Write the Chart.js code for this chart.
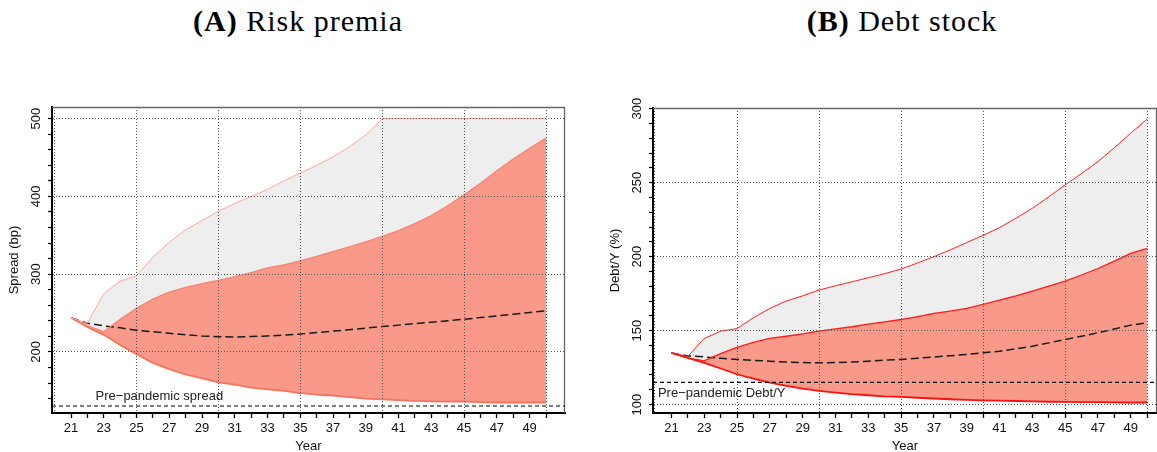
<!DOCTYPE html>
<html>
<head>
<meta charset="utf-8">
<script src="https://cdn.jsdelivr.net/npm/chart.js@4.4.0/dist/chart.umd.min.js"></script>
<style>
  html, body { margin: 0; padding: 0; background: #fff; }
  #wrap { position: relative; width: 1157px; height: 452px; overflow: hidden; }
  canvas { position: absolute; top: 0; }
  .title { position: absolute; top: 4px; font-family: 'Liberation Serif', serif; font-size: 30px;
           letter-spacing: 1px; color: #000; white-space: nowrap; transform: translateX(-50%); }
</style>
</head>
<body>
<div id="wrap">
  <div class="title" style="left:298px"><b>(A)</b> Risk premia</div>
  <div class="title" style="left:902px"><b>(B)</b> Debt stock</div>
  <canvas id="chartA" width="580" height="452" style="left:0"></canvas>
  <canvas id="chartB" width="567" height="452" style="left:590px"></canvas>
</div>
<script>
// years on the x axis (20xx)
const years = [21, 22, 23, 24, 25, 26, 27, 28, 29, 30, 31, 32, 33, 34, 35,
               36, 37, 38, 39, 40, 41, 42, 43, 44, 45, 46, 47, 48, 49, 50];

// (A) risk premia, spread in bp
const upperA  = [244, 237, 275, 291, 298, 322, 341, 357, 369, 381, 391, 400, 409, 420, 430,
                 440, 451, 464, 479, 500, 500, 500, 500, 500, 500, 500, 500, 500, 500, 500];
const midA    = [244, 234, 226, 242, 256, 268, 277, 283, 288, 292, 297, 302, 308, 312, 317,
                 323, 329, 335, 341.5, 348.5, 356, 365, 375.5, 388, 402, 417, 433, 448, 462, 475];
const lowerA  = [244, 232, 222, 209, 197, 186, 178, 171, 166, 161, 158, 154, 152, 150, 147,
                 145, 144, 142, 140, 139, 138, 137, 136.5, 136, 136, 135.5, 135, 135, 135, 135];
const medianA = [244, 237, 233.5, 231, 228, 226, 224, 222, 220.6, 219.7, 219.3, 219.8, 220.6, 221.7, 223,
                 224.9, 226.8, 228.7, 230.6, 232.6, 234.5, 236.4, 238.2, 240.1, 242, 244.2, 246.4, 248.6, 250.8, 253];
const preA = 130.5;

// (B) debt stock, debt/Y in %
const upperB  = [134.9, 132.5, 144.7, 149.6, 151.4, 158.7, 165, 170, 173.5, 177.4, 180.3, 183, 185.7, 188.5, 191.6,
                 195.7, 200, 204.6, 209.5, 214.4, 219.6, 226, 232.7, 240.4, 248.5, 256.2, 264.3, 273.6, 283.5, 293];
const midB    = [134.9, 131.6, 129.5, 134.5, 138.6, 142, 144.7, 146.2, 147.8, 149.6, 151.2, 152.6, 154.4, 155.9, 157.5,
                 159.5, 161.6, 163.2, 165, 167.7, 170.6, 173.5, 176.7, 180, 183.5, 187.6, 192, 197, 202.2, 205.6];
const lowerB  = [134.9, 131.6, 128.2, 124.4, 120.5, 117.6, 114.9, 112.6, 110.8, 109.2, 108.1, 107, 106.3, 105.6, 105.2,
                 104.6, 104.1, 103.6, 103.2, 102.9, 102.6, 102.4, 102.1, 101.9, 101.8, 101.7, 101.6, 101.5, 101.4, 101.4];
const medianB = [134.9, 132.9, 132.2, 131.3, 130.5, 129.9, 129.3, 128.8, 128.4, 128.2, 128.4, 128.8, 129.3, 130, 130.5,
                 131.3, 132.2, 133, 133.9, 135, 136.1, 137.7, 139.5, 141.7, 144, 146.2, 148.5, 151.1, 153.7, 155.3];
const preB = 115;

// axis tick labels
const yLabelsA = [200, 300, 400, 500];
const yLabelsB = [100, 150, 200, 250, 300];

const FONT = "'Liberation Sans', Arial, sans-serif";
const RED_FILL = '#F8998A';
const GREY_FILL = '#EEEEEE';
const GRID = '#555555';

const pts = arr => arr.map((v, i) => ({x: years[i], y: v}));

function rangeTicks(from, to, step) {
  const out = [];
  for (let v = from; v <= to + 1e-9; v += step) out.push({value: v});
  return out;
}

// box, rotated y labels, y title and the pre-pandemic reference line
const decor = {
  id: 'decor',
  afterDraw(chart) {
    const o = chart.options.plugins.decor;
    const {ctx, chartArea: a} = chart;
    const y = chart.scales.y, x = chart.scales.x;
    ctx.save();
    // top / right frame
    ctx.strokeStyle = '#666';
    ctx.lineWidth = 1.3;
    ctx.beginPath();
    ctx.moveTo(a.left, a.top + 0.5);
    ctx.lineTo(a.right - 0.5, a.top + 0.5);
    ctx.lineTo(a.right - 0.5, a.bottom);
    ctx.stroke();
    // pre-pandemic line
    const py = y.getPixelForValue(o.pre);
    ctx.strokeStyle = '#000';
    ctx.lineWidth = 1.2;
    ctx.setLineDash([4, 3]);
    ctx.beginPath();
    ctx.moveTo(a.left, py);
    ctx.lineTo(a.right, py);
    ctx.stroke();
    ctx.setLineDash([]);
    ctx.fillStyle = '#222';
    ctx.font = '13px ' + FONT;
    ctx.textAlign = 'left';
    ctx.textBaseline = 'middle';
    ctx.fillText(o.preText, x.getPixelForValue(o.preTextX), py + o.preTextDy);
    // y tick labels, rotated like R
    ctx.fillStyle = '#111';
    ctx.textAlign = 'center';
    for (const v of o.yLabels) {
      ctx.save();
      ctx.translate(a.left - 16, y.getPixelForValue(v));
      ctx.rotate(-Math.PI / 2);
      ctx.fillText(String(v), 0, 0);
      ctx.restore();
    }
    // y title
    ctx.save();
    ctx.translate(a.left - 38, (a.top + a.bottom) / 2);
    ctx.rotate(-Math.PI / 2);
    ctx.fillText(o.yTitle, 0, 0);
    ctx.restore();
    ctx.restore();
  }
};

function makeChart(id, cfg) {
  const lineDs = (data, color, width, fill, bg) => ({
    data: pts(data), borderColor: color, borderWidth: width, pointRadius: 0,
    tension: 0, fill: fill, backgroundColor: bg || 'transparent'
  });
  return new Chart(document.getElementById(id), {
    type: 'line',
    data: {
      datasets: [
        lineDs(cfg.upper, cfg.upperColor, 1, '+1', GREY_FILL),
        lineDs(cfg.mid, cfg.midColor, 1.3, '+1', RED_FILL),
        lineDs(cfg.lower, cfg.lowerColor, 1.8, false),
        Object.assign(lineDs(cfg.median, '#1a1a1a', 1.5, false), {borderDash: [8, 4]})
      ]
    },
    options: {
      responsive: false,
      animation: false,
      devicePixelRatio: 1,
      layout: {padding: {top: cfg.top, right: cfg.right, left: 0, bottom: 0}},
      plugins: {
        legend: {display: false},
        tooltip: {enabled: false},
        filler: {drawTime: 'beforeDatasetsDraw'},
        decor: {pre: cfg.pre, preText: cfg.preText, preTextX: cfg.preTextX, preTextDy: cfg.preTextDy,
                yLabels: cfg.yLabels, yTitle: cfg.yTitle}
      },
      scales: {
        x: {
          type: 'linear',
          min: cfg.xmin, max: cfg.xmax,
          afterBuildTicks: s => { s.ticks = rangeTicks(20, 50, 1); },
          afterFit: s => { s.height = 39; },
          ticks: {
            autoSkip: false, minRotation: 0, maxRotation: 0, padding: 3,
            color: '#111', font: {family: FONT, size: 13},
            callback: v => (v % 2 === 1 ? String(v) : '')
          },
          grid: {
            z: 1, lineWidth: 1, tickLength: 5, tickWidth: 1.3,
            color: c => (c.tick && c.tick.value % 5 === 0 ? GRID : 'transparent'),
            tickColor: c => (c.tick && c.tick.value >= 21 ? '#000' : 'transparent')
          },
          border: {display: true, color: '#000', width: 2, dash: [1, 2], z: 2},
          title: {display: true, text: 'Year', color: '#111', font: {family: FONT, size: 13},
                  padding: {top: 0, bottom: -2}}
        },
        y: {
          type: 'linear',
          min: cfg.ymin, max: cfg.ymax,
          afterBuildTicks: s => { s.ticks = rangeTicks(cfg.yTickFrom, cfg.yTickTo, cfg.yMinor); },
          afterFit: s => { s.width = cfg.left; },
          ticks: {display: false, autoSkip: false},
          grid: {
            z: 1, lineWidth: 1, tickLength: 4, tickWidth: 1.2,
            color: c => (c.tick && cfg.yLabels.includes(c.tick.value) ? GRID : 'transparent'),
            tickColor: '#000'
          },
          border: {display: true, color: '#000', width: 2, dash: [1, 2], z: 2}
        }
      }
    },
    plugins: [decor]
  });
}

makeChart('chartA', {
  upper: upperA, mid: midA, lower: lowerA, median: medianA,
  upperColor: '#F9A99C', midColor: '#F7826F', lowerColor: '#F7735F',
  xmin: 19.84, xmax: 51.16, ymin: 121.5, ymax: 515,
  yTickFrom: 140, yTickTo: 500, yMinor: 20, yLabels: yLabelsA, yTitle: 'Spread (bp)',
  top: 107, right: 15, left: 52,
  pre: preA, preText: 'Pre\u2212pandemic spread', preTextX: 22.5, preTextDy: -10
});

makeChart('chartB', {
  upper: upperB, mid: midB, lower: lowerB, median: medianB,
  upperColor: '#FF2020', midColor: '#FF1A1A', lowerColor: '#FF1010',
  xmin: 19.88, xmax: 50.6, ymin: 94.3, ymax: 300.5,
  yTickFrom: 100, yTickTo: 300, yMinor: 10, yLabels: yLabelsB, yTitle: 'Debt/Y (%)',
  top: 108, right: 0, left: 63,
  pre: preB, preText: 'Pre\u2212pandemic Debt/Y', preTextX: 20.18, preTextDy: 11
});
</script>
</body>
</html>
